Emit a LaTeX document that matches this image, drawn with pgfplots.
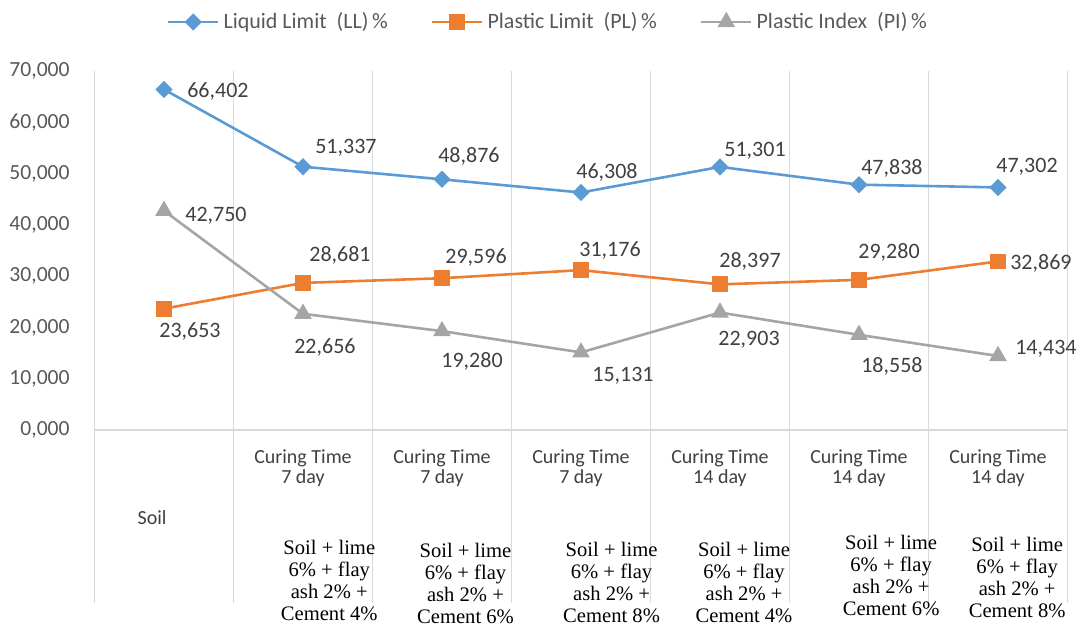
\documentclass[border=0pt]{standalone}
\usepackage{fontspec}
\setmainfont{Carlito}
\newfontfamily\serif{Liberation Serif}
\usepackage{pgfplots}
\usepackage{pgfplotstable}
\pgfplotsset{compat=1.18}
\definecolor{llc}{HTML}{5B9BD5}
\definecolor{plc}{HTML}{ED7D31}
\definecolor{pic}{HTML}{A5A5A5}
\definecolor{gridc}{HTML}{D9D9D9}
\definecolor{txt}{HTML}{404040}
\definecolor{tickc}{HTML}{595959}

\pgfplotstableread{
x ll pl pi
0 66.402 23.653 42.750
1 51.337 28.681 22.656
2 48.876 29.596 19.280
3 46.308 31.176 15.131
4 51.301 28.397 22.903
5 47.838 29.280 18.558
6 47.302 32.869 14.434
}\data

\pgfplotstableread{
x y lab
0.388 66.01 66,402
1.309 55.04 51,337
2.194 53.36 48,876
3.187 50.21 46,308
4.252 54.42 51,301
5.237 50.96 47,838
6.209 51.40 47,302
}\lllab

\pgfplotstableread{
x y lab
0.187 19.17 23,653
1.266 34.14 28,681
2.245 33.69 29,596
3.209 35.08 31,176
4.216 32.88 28,397
5.216 34.54 29,280
6.309 32.48 32,869
}\pllab

\pgfplotstableread{
x y lab
0.374 41.78 42,750
1.158 16.03 22,656
2.216 13.43 19,280
3.302 10.60 15,131
4.209 17.64 22,903
5.237 12.32 18,558
6.345 15.80 14,434
}\pilab

\begin{document}
\begin{tikzpicture}
\path[use as bounding box] (-47.25pt,-98pt) rectangle (493.75pt,215pt);
\begin{axis}[
  scale only axis, width=486.5pt, height=179.5pt,
  xmin=-0.5, xmax=6.5, ymin=0, ymax=70,
  axis line style={draw=none}, tick style={draw=none},
  clip=false,
  xtick={0,1,2,3,4,5,6},
  xticklabels={{},{Curing Time\\7 day},{Curing Time\\7 day},{Curing Time\\7 day},{Curing Time\\14 day},{Curing Time\\14 day},{Curing Time\\14 day}},
  xticklabel style={font=\fontsize{10}{10}\selectfont, text=txt, align=center, anchor=north, inner sep=0pt, yshift=-9.5pt},
  ytick={0,10,...,70},
  yticklabel style={font=\fontsize{10.8}{12}\selectfont, text=tickc, anchor=east, inner sep=0pt, xshift=-12.25pt,
    /pgf/number format/.cd, fixed, fixed zerofill, precision=3, use comma, assume math mode=true},
  legend columns=3,
  legend style={at={(0.467,1)}, anchor=center, yshift=24.5pt, draw=none, fill=none,
    font=\fontsize{11}{13}\selectfont, text=tickc,
    /tikz/every even column/.append style={column sep=19.5pt}},
  legend image code/.code={\draw[mark repeat=2, mark phase=2, #1] plot coordinates {(0pt,0pt) (12.5pt,0pt) (25pt,0pt)};},
  every node near coord/.append style={anchor=center, inner sep=0pt, font=\fontsize{11}{12}\selectfont, text=txt},
]
% grid lines
\draw[gridc, line width=0.7pt] (axis cs:-0.5,0) -- (axis cs:6.5,0);
\pgfplotsinvokeforeach{-0.5,0.5,1.5,2.5,3.5,4.5,5.5,6.5}{
  \draw[gridc, line width=0.7pt] (axis cs:#1,70) -- (axis cs:#1,-33.7);
}
\addplot[color=llc, line width=1.3pt, mark=square*, mark size=2.4pt, mark options={rotate=45, solid, fill=llc}] table[x=x, y=ll] {\data};
\addlegendentry{Liquid Limit\ \ (LL)\,\%}
\addplot[color=plc, line width=1.3pt, mark=square*, mark size=3.3pt, mark options={solid, fill=plc}] table[x=x, y=pl] {\data};
\addlegendentry{Plastic Limit\ \ (PL)\,\%}
\addplot[color=pic, line width=1.3pt, mark=triangle*, mark size=3.8pt, mark options={solid, fill=pic}] table[x=x, y=pi] {\data};
\addlegendentry{Plastic Index\ \ (PI)\,\%}

\addplot[forget plot, draw=none, mark=none, nodes near coords, point meta=explicit symbolic] table[x=x, y=y, meta=lab] {\lllab};
\addplot[forget plot, draw=none, mark=none, nodes near coords, point meta=explicit symbolic] table[x=x, y=y, meta=lab] {\pllab};
\addplot[forget plot, draw=none, mark=none, nodes near coords, point meta=explicit symbolic] table[x=x, y=y, meta=lab] {\pilab};

\node[anchor=north, inner sep=0pt, font=\fontsize{10}{10}\selectfont, text=txt, yshift=-40pt] at (axis cs:-0.086,0) {Soil};
\tikzset{serifblk/.style={anchor=north, inner sep=0pt, align=center, font=\serif\fontsize{10.3}{11}\selectfont, text=black}}
\node[serifblk, yshift=-55pt] at (axis cs:1.189,0) {Soil + lime\\6\% + flay\\ash 2\% +\\Cement 4\%};
\node[serifblk, yshift=-56.5pt] at (axis cs:2.169,0) {Soil + lime\\6\% + flay\\ash 2\% +\\Cement 6\%};
\node[serifblk, yshift=-56pt] at (axis cs:3.220,0) {Soil + lime\\6\% + flay\\ash 2\% +\\Cement 8\%};
\node[serifblk, yshift=-56pt] at (axis cs:4.173,0) {Soil + lime\\6\% + flay\\ash 2\% +\\Cement 4\%};
\node[serifblk, yshift=-52.5pt] at (axis cs:5.231,0) {Soil + lime\\6\% + flay\\ash 2\% +\\Cement 6\%};
\node[serifblk, yshift=-53.5pt] at (axis cs:6.138,0) {Soil + lime\\6\% + flay\\ash 2\% +\\Cement 8\%};
\end{axis}
\end{tikzpicture}
\end{document}
